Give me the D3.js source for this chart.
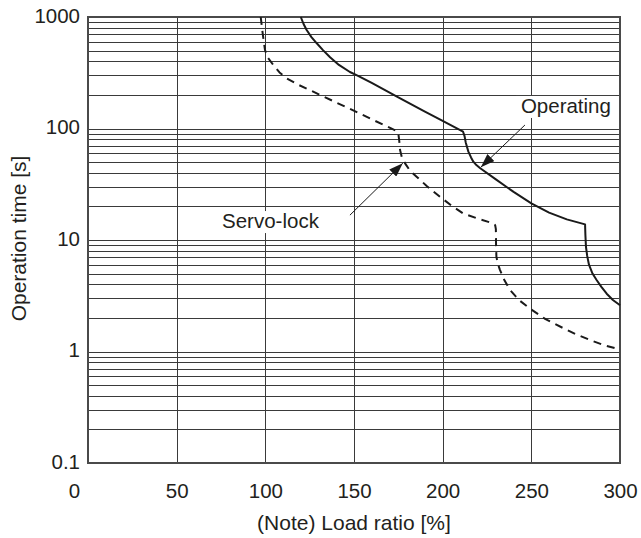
<!DOCTYPE html>
<html>
<head>
<meta charset="utf-8">
<script src="https://cdn.jsdelivr.net/npm/d3@7"></script>
<style>
  html, body { margin: 0; padding: 0; background: #fff; }
  svg { display: block; }
  text { font-family: "Liberation Sans", Arial, sans-serif; fill: #231f20; }
</style>
</head>
<body>
<svg id="chart" width="641" height="538"></svg>
<script>
// ---- data ----
const xTicks = [0, 50, 100, 150, 200, 250, 300];
const yTicks = [0.1, 1, 10, 100, 1000];
const yTickLabels = ["0.1", "1", "10", "100", "1000"];
const xTitle = "(Note) Load ratio [%]";
const yTitle = "Operation time [s]";

// Operating (solid)
const operatingLoad = [120, 121.5, 123.3, 126, 129, 132.5, 136.5, 141.5, 147.7, 152, 160, 175, 190, 200, 211.5,
  212.3, 213, 214.5, 216, 217.3, 219, 221.2, 230, 240, 250, 260, 270, 280.3,
  280.5, 280.8, 281.5, 282.5, 284.5, 286.8, 289.5, 292.5, 296, 300];
const operatingTime = [1000, 870, 764, 660, 581, 505, 436, 372, 321, 298, 256, 190, 142, 117, 93.6,
  86, 75, 62, 55, 50.4, 47, 44, 35, 27, 21.3, 17.6, 15.3, 13.8,
  11, 8.7, 7.2, 6, 5, 4.38, 3.8, 3.3, 2.9, 2.6];

// Servo-lock (dashed)
const servoLoad = [97.4, 98.5, 99.8, 101.5, 104.5, 108, 112, 119, 127, 138.3, 147.7, 160, 174,
  175, 175.5, 176, 177, 178.8, 181.5, 185.3, 191, 198.5, 205, 211.6, 220, 228.6,
  229.6, 230, 230.1, 230.3, 231, 232.3, 235, 238, 243, 249, 258, 268, 275, 283, 291, 300];
const servoTime = [1000, 714, 506, 430, 371, 318, 282, 245, 214, 176, 150, 121, 95,
  90, 78, 64, 55, 48.7, 42, 37, 30.5, 24.4, 20.3, 17.3, 15.5, 14.1,
  13.6, 12.5, 9, 7.1, 6.2, 5.4, 4.3, 3.56, 2.9, 2.44, 1.95, 1.62, 1.43, 1.27, 1.14, 1.04];

// annotations: label, text anchor point, arrow tail, arrow tip (data units)
const annoLabels = ["Operating", "Servo-lock"];
const annoTextLoad = [269.5, 102.9];
const annoTextTime = [137.8, 12.8];
const annoTailLoad = [246.4, 147.7];
const annoTailTime = [107.5, 16.7];
const annoTipLoad = [221.5, 177.5];
const annoTipTime = [44.9, 48.8];

// ---- layout ----
const svg = d3.select("#chart");
const pLeft = 88, pRight = 620, pTop = 17, pBottom = 463;
const fontSize = 20.5;

const x = d3.scaleLinear().domain([0, 300]).range([pLeft, pRight]);
const y = d3.scaleLog().domain([0.1, 1000]).range([pBottom, pTop]);

// grid
const hGrid = [];
for (let e = -1; e < 3; e++) {
  for (let k = 1; k < 10; k++) hGrid.push(k * Math.pow(10, e));
}
hGrid.push(1000);

const grid = svg.append("g").attr("shape-rendering", "crispEdges");
grid.selectAll("line.h").data(hGrid).join("line")
  .attr("class", "h")
  .attr("x1", pLeft).attr("x2", pRight)
  .attr("y1", d => Math.round(y(d)) + 0.5).attr("y2", d => Math.round(y(d)) + 0.5)
  .attr("stroke", "#3a3a3a").attr("stroke-width", 1);
grid.selectAll("line.v").data(xTicks.slice(1, -1)).join("line")
  .attr("class", "v")
  .attr("x1", d => Math.round(x(d)) + 0.5).attr("x2", d => Math.round(x(d)) + 0.5)
  .attr("y1", pTop).attr("y2", pBottom)
  .attr("stroke", "#3a3a3a").attr("stroke-width", 1);
svg.append("rect")
  .attr("x", pLeft).attr("y", pTop).attr("width", pRight - pLeft).attr("height", pBottom - pTop)
  .attr("fill", "none").attr("stroke", "#4a4a4a").attr("stroke-width", 2);

// axes
const yAxis = d3.axisLeft(y).tickValues(yTicks).tickSize(0).tickPadding(8)
  .tickFormat((d, i) => yTickLabels[i]);
const gy = svg.append("g").attr("transform", `translate(${pLeft},0)`).call(yAxis);
gy.select(".domain").remove();
gy.selectAll("text").attr("font-size", fontSize).attr("dy", "0.26em")
  .style("font-family", "'Liberation Sans', Arial, sans-serif").attr("fill", "#231f20");

const xAxis = d3.axisBottom(x).tickValues(xTicks).tickSize(0).tickPadding(20)
  .tickFormat(d3.format("d"));
const gx = svg.append("g").attr("transform", `translate(0,${pBottom})`).call(xAxis);
gx.select(".domain").remove();
gx.selectAll("text").attr("font-size", fontSize)
  .style("font-family", "'Liberation Sans', Arial, sans-serif").attr("fill", "#231f20")
  .attr("dx", d => d === 0 ? -14 : 0);

// titles
svg.append("text")
  .attr("x", (pLeft + pRight) / 2).attr("y", 530)
  .attr("text-anchor", "middle").attr("font-size", 21).text(xTitle);
svg.append("text")
  .attr("transform", `translate(26,${(pTop + pBottom) / 2 - 1.5}) rotate(-90)`)
  .attr("text-anchor", "middle").attr("font-size", 21).text(yTitle);

// curves
const line = d3.line().x(d => x(d[0])).y(d => y(d[1])).curve(d3.curveLinear);
svg.append("path")
  .datum(operatingLoad.map((v, i) => [v, operatingTime[i]]))
  .attr("d", line).attr("fill", "none").attr("stroke", "#1a1a1a")
  .attr("stroke-width", 2).attr("stroke-linejoin", "round");
svg.append("path")
  .datum(servoLoad.map((v, i) => [v, servoTime[i]]))
  .attr("d", line).attr("fill", "none").attr("stroke", "#1a1a1a")
  .attr("stroke-width", 2).attr("stroke-dasharray", "8,6").attr("stroke-linejoin", "round");

// arrows
svg.append("defs").append("marker")
  .attr("id", "arrow").attr("markerUnits", "userSpaceOnUse")
  .attr("viewBox", "0 0 14 10").attr("refX", 14).attr("refY", 5)
  .attr("markerWidth", 14).attr("markerHeight", 10).attr("orient", "auto")
  .append("path").attr("d", "M0,0 L14,5 L0,10 Z").attr("fill", "#1a1a1a");

annoLabels.forEach((lab, i) => {
  svg.append("line")
    .attr("x1", x(annoTailLoad[i])).attr("y1", y(annoTailTime[i]))
    .attr("x2", x(annoTipLoad[i])).attr("y2", y(annoTipTime[i]))
    .attr("stroke", "#1a1a1a").attr("stroke-width", 1)
    .attr("marker-end", "url(#arrow)");
  svg.append("rect")
    .attr("x", x(annoTextLoad[i]) - 50).attr("y", y(annoTextTime[i]) - 17)
    .attr("width", 100).attr("height", 22).attr("fill", "#fff");
  svg.append("text")
    .attr("x", x(annoTextLoad[i])).attr("y", y(annoTextTime[i]))
    .attr("text-anchor", "middle").attr("font-size", fontSize).text(lab);
});
</script>
</body>
</html>
